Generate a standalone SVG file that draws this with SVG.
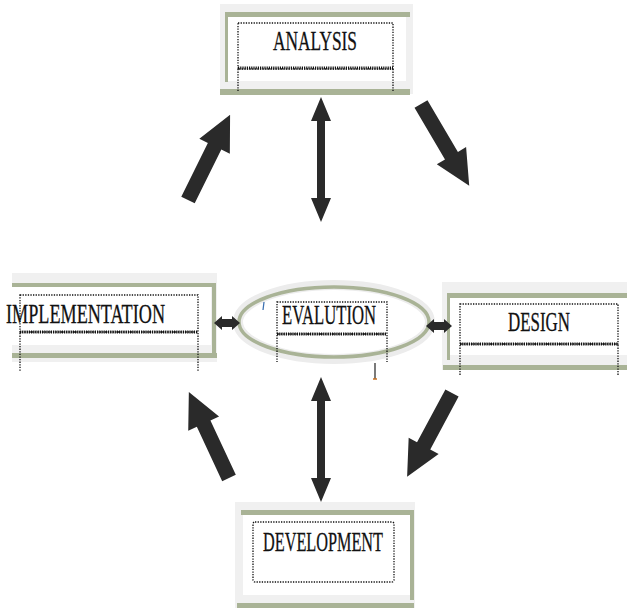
<svg xmlns="http://www.w3.org/2000/svg" width="627" height="608" viewBox="0 0 627 608">
<style>
.outer{fill:#f0f0f0}
.inner{fill:#ffffff}
.bar{fill:#a9b396}
.dot{fill:none;stroke:#111;stroke-width:1.3;stroke-dasharray:1.3 1.3}
.dbl{stroke:#111;stroke-width:3;stroke-dasharray:1.2 1}
.lbl{font-family:"Liberation Serif","Times New Roman",serif;font-size:28px;fill:#111;stroke:#111;stroke-width:0.3}
.arr{fill:#2a2a2a}
</style>
<defs>
<path id="blk" d="M0,-7.5 H60 V-17 L95,0 L60,17 V7.5 H0 Z"/>
<path id="vdbl" d="M0,0 L10,24 H4 V101 H10 L0,125 L-10,101 H-4 V24 H-10 Z"/>
<path id="hdbl" d="M0,0 L8,-7 V-4 H18 V-7 L26,0 L18,7 V4 H8 V7 Z"/>
</defs>

<g id="analysis">
<rect class="outer" x="220" y="4" width="193" height="90"/>
<rect class="inner" x="228" y="17" width="178" height="64"/>
<rect class="bar" x="225" y="12" width="185" height="5"/>
<rect class="bar" x="225" y="12" width="3" height="70"/>
<rect class="bar" x="220" y="89" width="190" height="6"/>
<rect class="dot" x="238" y="23" width="155" height="46"/>
<line class="dbl" x1="238" y1="68" x2="393" y2="68"/>
<line class="dot" x1="238" y1="69" x2="238" y2="92"/>
<line class="dot" x1="393" y1="69" x2="393" y2="92"/>
<text class="lbl" x="273" y="50" textLength="84" lengthAdjust="spacingAndGlyphs">ANALYSIS</text>
</g>

<g id="implementation">
<rect class="outer" x="12" y="273" width="205" height="89"/>
<rect class="inner" x="12" y="287" width="199" height="58"/>
<rect class="bar" x="12" y="283" width="200" height="4"/>
<rect class="bar" x="212" y="283" width="4" height="74"/>
<rect class="bar" x="12" y="353" width="205" height="5"/>
<rect class="dot" x="20" y="295" width="178" height="37"/>
<line class="dbl" x1="20" y1="332" x2="198" y2="332"/>
<line class="dot" x1="20" y1="333" x2="20" y2="372"/>
<line class="dot" x1="198" y1="333" x2="198" y2="372"/>
<text class="lbl" x="6" y="323" textLength="159" lengthAdjust="spacingAndGlyphs">IMPLEMENTATION</text>
</g>

<g id="evaluation">
<ellipse cx="334" cy="322" rx="96" ry="37" fill="#fff" stroke="#ececec" stroke-width="10"/>
<ellipse cx="334" cy="322" rx="95" ry="35" fill="none" stroke="#a9b396" stroke-width="3.5"/>
<rect class="dot" x="277" y="302" width="110" height="32"/>
<line class="dbl" x1="277" y1="334" x2="387" y2="334"/>
<line class="dot" x1="277" y1="335" x2="277" y2="362"/>
<line class="dot" x1="387" y1="335" x2="387" y2="362"/>
<text class="lbl" x="282" y="324" textLength="94" lengthAdjust="spacingAndGlyphs">EVALUTION</text>
<line x1="264" y1="302" x2="263" y2="310" stroke="#3a6fb0" stroke-width="1.2"/>
<line x1="375" y1="363" x2="375" y2="379" stroke="#222" stroke-width="1.2"/>
<line x1="373" y1="379" x2="377" y2="379" stroke="#c87020" stroke-width="1.5"/>
</g>

<g id="design">
<rect class="outer" x="442" y="282" width="185" height="88"/>
<rect class="inner" x="450" y="298" width="177" height="57"/>
<rect class="bar" x="447" y="293" width="180" height="5"/>
<rect class="bar" x="447" y="293" width="3" height="67"/>
<rect class="bar" x="443" y="365" width="184" height="5"/>
<rect class="dot" x="460" y="304" width="158" height="40"/>
<line class="dbl" x1="460" y1="344" x2="618" y2="344"/>
<line class="dot" x1="460" y1="345" x2="460" y2="376"/>
<line class="dot" x1="618" y1="345" x2="618" y2="376"/>
<text class="lbl" x="508" y="331" textLength="62" lengthAdjust="spacingAndGlyphs">DESIGN</text>
</g>

<g id="development">
<rect class="outer" x="235" y="502" width="180" height="106"/>
<rect class="inner" x="243" y="515" width="167" height="80"/>
<rect class="bar" x="241" y="510" width="170" height="5"/>
<rect class="bar" x="410" y="510" width="4" height="90"/>
<rect class="bar" x="237" y="603" width="177" height="5"/>
<rect class="dot" x="253" y="522" width="141" height="60" rx="2"/>
<text class="lbl" x="263" y="551" textLength="120" lengthAdjust="spacingAndGlyphs">DEVELOPMENT</text>
</g>

<g id="connectors">
<use href="#blk" class="arr" transform="translate(188,200) rotate(-63.7)"/>
<use href="#blk" class="arr" transform="translate(421,104) rotate(59.5)"/>
<use href="#blk" class="arr" transform="translate(452,393) rotate(118.2)"/>
<use href="#blk" class="arr" transform="translate(229,478) rotate(-115)"/>
<use href="#vdbl" class="arr" transform="translate(321,97)"/>
<use href="#vdbl" class="arr" transform="translate(321,377)"/>
<use href="#hdbl" class="arr" transform="translate(214,323)"/>
<use href="#hdbl" class="arr" transform="translate(426,326)"/>
</g>
</svg>
